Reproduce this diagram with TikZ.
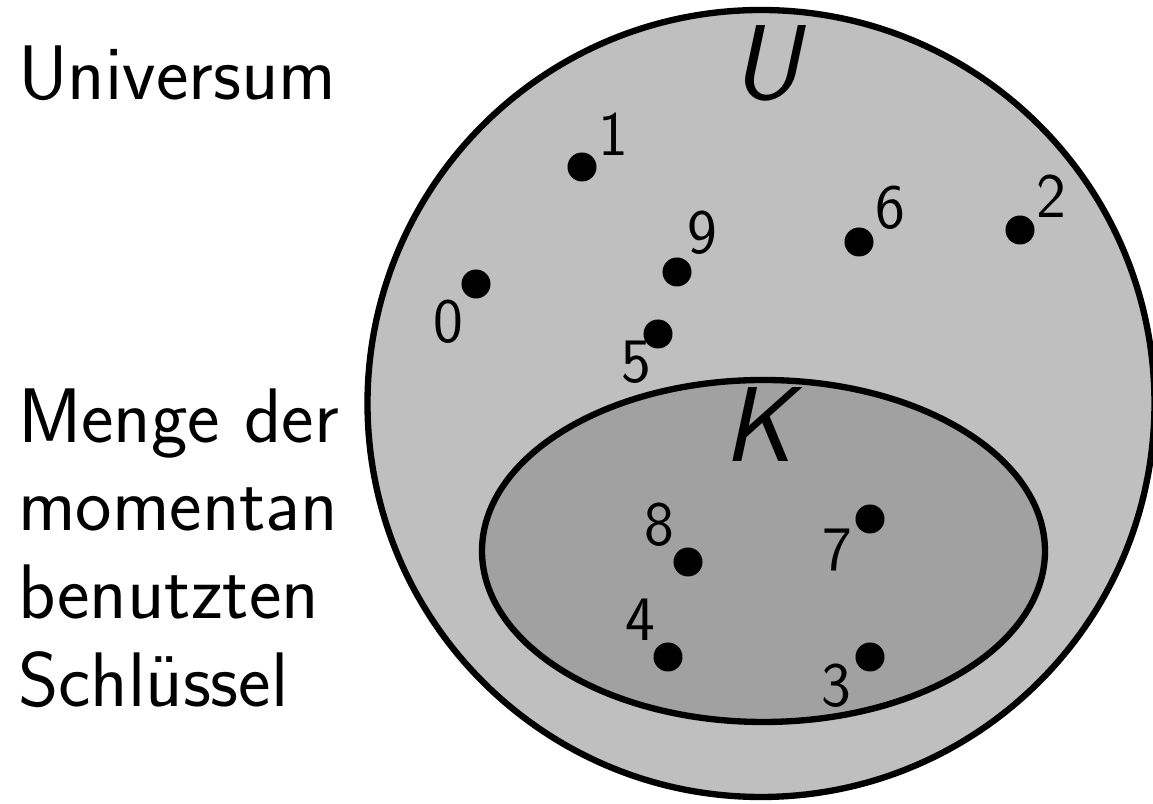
\documentclass[tikz,border=0pt]{standalone}
\usepackage{tikz}
\definecolor{venngray}{gray}{0.75}
\definecolor{venndark}{gray}{0.63}
\tikzset{
  dot/.style={circle, fill=black, inner sep=0pt, minimum size=0.29cm},
  num/.style={font=\sffamily\fontsize{18}{20}\selectfont, inner sep=0pt, label distance=-0.5pt},
  side/.style={font=\sffamily\fontsize{22}{25}\selectfont, inner sep=0pt, align=left},
  setname/.style={font=\sffamily\slshape\fontsize{30.3}{34}\selectfont, inner sep=0pt}
}

\begin{document}
\begin{tikzpicture}[x=0.01cm, y=-0.01cm, line width=1.8pt]
  \useasboundingbox (0,0) rectangle (1153,804);

  %% Universum U
  \draw[fill=venngray] (761,403.5) circle[radius=393.5];
  \node[setname, anchor=base] (U) at (766,100) {U};

  %% Schluessel K
  \draw[fill=venndark] (763.5,551) ellipse[x radius=281.5, y radius=171];
  \node[setname, anchor=base] (K) at (758,462) {K};

  %% Texte links
  \node[side, anchor=base west] (universum) at (15,100) {Universum};
  \node[side, anchor=north west] (menge) at (15,386) {Menge der\\momentan\\benutzten\\Schl\"ussel};

  %% Schluessel ausserhalb von K
  \node[dot, label={[num]233:0}] (k0) at (476,284) {};
  \node[dot, label={[num]30:1}]  (k1) at (582,167) {};
  \node[dot, label={[num]35:2}]  (k2) at (1020,230) {};
  \node[dot, label={[num, label distance=-3.5pt]223:5}] (k5) at (658,334) {};
  \node[dot, label={[num]35:6}]  (k6) at (859,242) {};
  \node[dot, label={[num]62:9}]  (k9) at (677,272) {};

  %% Schluessel in K
  \node[dot, label={[num]195:3}] (k3) at (870,657) {};
  \node[dot, label={[num]125:4}] (k4) at (668,657) {};
  \node[dot, label={[num]205:7}] (k7) at (870,519) {};
  \node[dot, label={[num]131:8}] (k8) at (688,562) {};
\end{tikzpicture}
\end{document}
